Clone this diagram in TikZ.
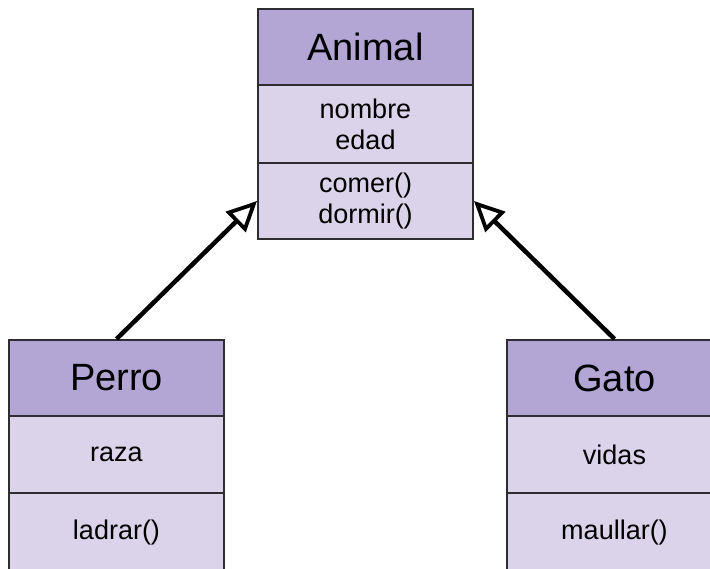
\documentclass[tikz,border=0pt]{standalone}
\usepackage{fontspec}
\setmainfont{Liberation Sans}
\usetikzlibrary{arrows.meta}
\definecolor{hdrfill}{RGB}{179,166,212}
\definecolor{bodyfill}{RGB}{218,211,234}
\definecolor{boxedge}{RGB}{45,45,50}
\begin{document}
\begin{tikzpicture}[x=1pt,y=-1pt,
  compart/.style={draw=boxedge, line width=2pt, minimum width=215pt, inner sep=0pt, align=center, text=black},
  classhead/.style={compart, fill=hdrfill, minimum height=76pt, font=\fontsize{38}{44}\selectfont},
  classbody/.style={compart, fill=bodyfill, minimum height=77pt, font=\fontsize{27}{31}\selectfont},
  inherits/.style={line width=4.5pt, -{Triangle[open, fill=white, length=30pt, width=28pt, line width=3.8pt]}}
]
\useasboundingbox (0,0) rectangle (710,568);
\clip (0,0) rectangle (710,568);

% superclass
\node[classhead] (animalH) at (365.5,47) {Animal};
\node[classbody, minimum height=78pt] (animalA) at (365.5,124) {nombre\\edad};
\node[classbody, minimum height=76pt] (animalM) at (365.5,201) {comer()\\dormir()};

% subclass Perro
\node[classhead] (perroH) at (116.5,378) {Perro};
\node[classbody] (perroA) at (116.5,454.5) {raza};
\node[classbody, minimum height=80pt] (perroM) at (116.5,533) {ladrar()};

% subclass Gato
\node[classhead] (gatoH) at (614.5,378) {Gato};
\node[classbody] (gatoA) at (614.5,454.5) {vidas};
\node[classbody, minimum height=80pt] (gatoM) at (614.5,533) {maullar()};

% generalisation arrows
\draw[inherits] (perroH.north) -- (animalM.west);
\draw[inherits] (gatoH.north) -- (animalM.east);
\end{tikzpicture}
\end{document}
